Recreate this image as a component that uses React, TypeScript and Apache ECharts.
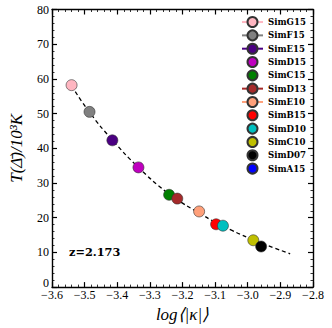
import React, { useEffect, useRef } from "react";
import * as echarts from "echarts";

const simNames = ["SimG15", "SimF15", "SimE15", "SimD15", "SimC15", "SimD13", "SimE10", "SimB15", "SimD10", "SimC10", "SimD07", "SimA15"];
const simColors = ["#ffb6c1", "#808080", "#4b0082", "#bf00bf", "#008000", "#a52a2a", "#ffa07a", "#ff0000", "#00bfbf", "#bfbf00", "#000000", "#0000ff"];
const simLogKappa: (number | null)[] = [-3.54, -3.485, -3.415, -3.335, -3.241, -3.216, -3.149, -3.097, -3.076, -2.983, -2.959, null];
const simTemp: (number | null)[] = [58.2, 50.5, 42.3, 34.5, 26.6, 25.5, 21.8, 18.1, 17.7, 13.5, 11.7, null];
const withLegendLine = ["SimG15", "SimF15", "SimE15", "SimD13", "SimE10"];

const fitLogKappa = [-3.54, -3.485, -3.415, -3.335, -3.25, -3.2, -3.15, -3.1, -3.05, -3.0, -2.95, -2.87];
const fitTemp = [58.0, 50.4, 42.4, 34.5, 27.4, 24.2, 21.4, 18.7, 16.4, 14.3, 12.4, 9.6];

const xTicks = { min: -3.6, max: -2.8, interval: 0.1 };
const yTicks = { min: 0, max: 80, interval: 10 };

const tickFont = "'Liberation Serif', serif";
const boldFont = "'DejaVu Serif', serif";

export default function App() {
  const ref = useRef<HTMLDivElement>(null);
  useEffect(() => {
    if (!ref.current) return;
    const chart = echarts.init(ref.current, null, { renderer: "svg" });
    const axisLine = { show: true, onZero: false, lineStyle: { color: "#000", width: 1.4 } };
    const axisTick = { show: true, inside: true, length: 5, lineStyle: { color: "#000", width: 1.2 } };
    const minorTick = { show: true, splitNumber: 5, length: 2.5, lineStyle: { color: "#000", width: 0.8 } };
    const fmtX = (v: number) => v.toFixed(1).replace("-", "\u2212");

    const simSeries = simNames.map((name, i) => {
      const hasLine = withLegendLine.includes(name);
      const x = simLogKappa[i];
      const y = simTemp[i];
      return {
        name,
        type: "line",
        data: x !== null && y !== null ? [[x, y]] : [],
        symbol: "circle",
        symbolSize: 11,
        showSymbol: true,
        z: 5,
        itemStyle: { color: simColors[i], borderColor: "#333", borderWidth: 0.6, opacity: 1 },
        lineStyle: { color: simColors[i], width: 1.5, opacity: hasLine ? 1 : 0 },
      } as any;
    });

    chart.setOption({
      animation: false,
      grid: { left: 43, right: 19, top: 9.5, bottom: 39 },
      xAxis: [
        {
          type: "value",
          ...xTicks,
          name: "log\u27e8|\u03ba|\u27e9",
          nameLocation: "middle",
          nameGap: 14,
          nameTextStyle: { fontFamily: tickFont, fontStyle: "italic", fontSize: 17, color: "#000", verticalAlign: "top" },
          axisLine,
          axisTick,
          minorTick,
          splitLine: { show: false },
          axisLabel: { formatter: fmtX, fontFamily: tickFont, fontSize: 12, color: "#000", margin: 2, showMinLabel: true, showMaxLabel: true },
        },
        {
          type: "value",
          position: "top",
          ...xTicks,
          axisLine,
          axisTick,
          minorTick,
          splitLine: { show: false },
          axisLabel: { show: false },
        },
      ],
      yAxis: [
        {
          type: "value",
          ...yTicks,
          name: "T(\u0394\u0304)/10\u00b3K",
          nameLocation: "middle",
          nameGap: 27,
          nameRotate: 90,
          nameTextStyle: { fontFamily: tickFont, fontStyle: "italic", fontSize: 17, color: "#000" },
          axisLine,
          axisTick,
          minorTick,
          splitLine: { show: false },
          axisLabel: {
            fontFamily: tickFont,
            fontSize: 12,
            color: "#000",
            margin: 3,
            formatter: (v: number) => (v === 0 ? "{z|0}" : String(v)),
            rich: { z: { fontFamily: tickFont, fontSize: 12, color: "#000", padding: [0, 0, 9, 0] } },
          },
        },
        {
          type: "value",
          position: "right",
          ...yTicks,
          axisLine,
          axisTick,
          minorTick,
          splitLine: { show: false },
          axisLabel: { show: false },
        },
      ],
      legend: {
        data: simNames,
        orient: "vertical",
        left: 241,
        top: 16.05,
        itemWidth: 21,
        itemHeight: 12.5,
        itemGap: 1.32,
        padding: 0,
        selectedMode: false,
        textStyle: { fontFamily: boldFont, fontWeight: "bold", fontSize: 8.6, color: "#000" },
      },
      graphic: [
        {
          type: "text",
          left: 69,
          top: 246,
          style: { text: "z=2.173", font: `bold 11.3px ${boldFont}`, fill: "#000" },
        },
      ],
      series: [
        {
          name: "fit",
          type: "line",
          data: fitLogKappa.map((x, i) => [x, fitTemp[i]]),
          smooth: true,
          showSymbol: false,
          symbol: "none",
          z: 2,
          lineStyle: { color: "#000", width: 1.3, type: [4, 3] },
          silent: true,
        },
        ...simSeries,
      ],
    });
    return () => chart.dispose();
  }, []);
  return <div ref={ref} style={{ position: "absolute", left: 0, top: 0, width: 332, height: 328 }} />;
}
